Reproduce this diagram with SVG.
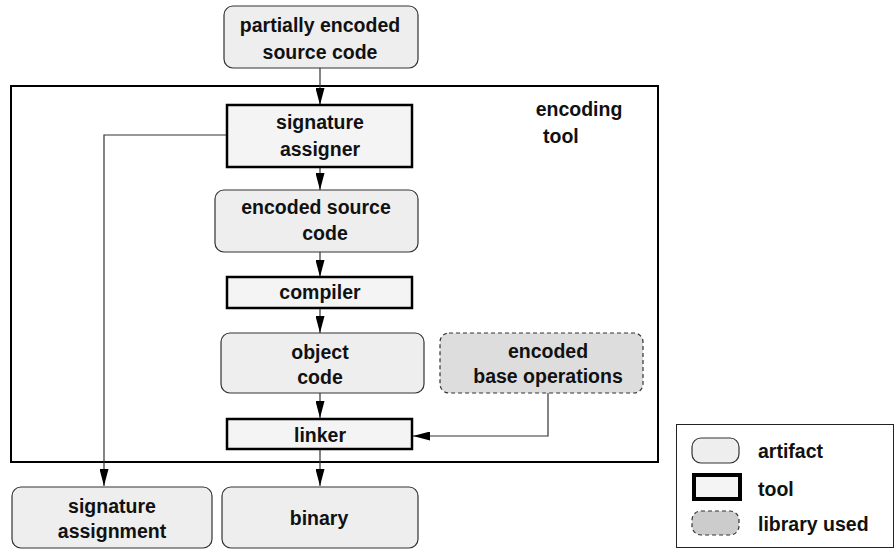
<svg xmlns="http://www.w3.org/2000/svg" width="895" height="549" viewBox="0 0 895 549">
<defs>
<marker id="ah" viewBox="0 0 17 9" refX="17" refY="4.5" markerWidth="17" markerHeight="9" markerUnits="userSpaceOnUse" orient="auto">
<path d="M0,0 L17,4.5 L0,9 Z" fill="#000"/>
</marker>
</defs>
<style>
text{font-family:"Liberation Sans",Arial,sans-serif;font-weight:bold;font-size:19.5px;fill:#111;text-anchor:middle}
.art{fill:#eeeeee;stroke:#333;stroke-width:1.2}
.tool{fill:#f4f4f4;stroke:#000;stroke-width:2.5}
.lib{fill:#dddddd;stroke:#333;stroke-width:1.2;stroke-dasharray:4 3}
.conn{fill:none;stroke:#333;stroke-width:1.2;marker-end:url(#ah)}
.lt{text-anchor:start}
</style>
<g id="encoding-tool">
<rect x="11" y="86" width="647" height="376" fill="#fff" stroke="#000" stroke-width="2"/>
<text x="579" y="116">encoding</text>
<text x="543" y="143" class="lt">tool</text>
</g>
<g id="connectors">
<path class="conn" d="M320,68 V105"/>
<path class="conn" d="M227,135 H104 V486"/>
<path class="conn" d="M320,167 V190"/>
<path class="conn" d="M320,252 V277"/>
<path class="conn" d="M320,308 V333"/>
<path class="conn" d="M320,393 V418"/>
<path class="conn" d="M548,393 V436 H413"/>
<path class="conn" d="M320,449 V486"/>
</g>
<g id="partially-encoded">
<rect class="art" x="224" y="6" width="194" height="62" rx="9"/>
<text x="320" y="32">partially encoded</text>
<text x="320" y="59">source code</text>
</g>
<g id="signature-assigner">
<rect class="tool" x="227" y="105" width="185" height="62"/>
<text x="320" y="129">signature</text>
<text x="320" y="156">assigner</text>
</g>
<g id="encoded-source">
<rect class="art" x="215" y="190" width="203" height="62" rx="9"/>
<text x="316" y="214">encoded source</text>
<text x="325" y="240">code</text>
</g>
<g id="compiler">
<rect class="tool" x="227" y="277" width="185" height="31"/>
<text x="320" y="299">compiler</text>
</g>
<g id="object-code">
<rect class="art" x="221" y="333" width="203" height="60" rx="9"/>
<text x="320" y="359">object</text>
<text x="320" y="384">code</text>
</g>
<g id="encoded-base">
<rect class="lib" x="440" y="333" width="203" height="60" rx="9"/>
<text x="548" y="358">encoded</text>
<text x="548" y="383">base operations</text>
</g>
<g id="linker">
<rect class="tool" x="227" y="419" width="185" height="30"/>
<text x="320" y="442">linker</text>
</g>
<g id="signature-assignment">
<rect class="art" x="12" y="487" width="200" height="61" rx="9"/>
<text x="112" y="513">signature</text>
<text x="112" y="538">assignment</text>
</g>
<g id="binary">
<rect class="art" x="222" y="487" width="196" height="61" rx="9"/>
<text x="319" y="525">binary</text>
</g>
<g id="legend">
<rect x="676.5" y="424.5" width="217" height="123" fill="#fff" stroke="#222" stroke-width="1"/>
<rect class="art" x="692" y="438" width="47" height="25" rx="9"/>
<text x="758" y="458" class="lt">artifact</text>
<rect x="694" y="475" width="46" height="24" fill="#f4f4f4" stroke="#000" stroke-width="4"/>
<text x="758" y="496" class="lt">tool</text>
<rect x="692" y="511" width="47" height="24" rx="9" fill="#cccccc" stroke="#333" stroke-width="1.2" stroke-dasharray="4 3"/>
<text x="758" y="531" class="lt">library used</text>
</g>
</svg>
